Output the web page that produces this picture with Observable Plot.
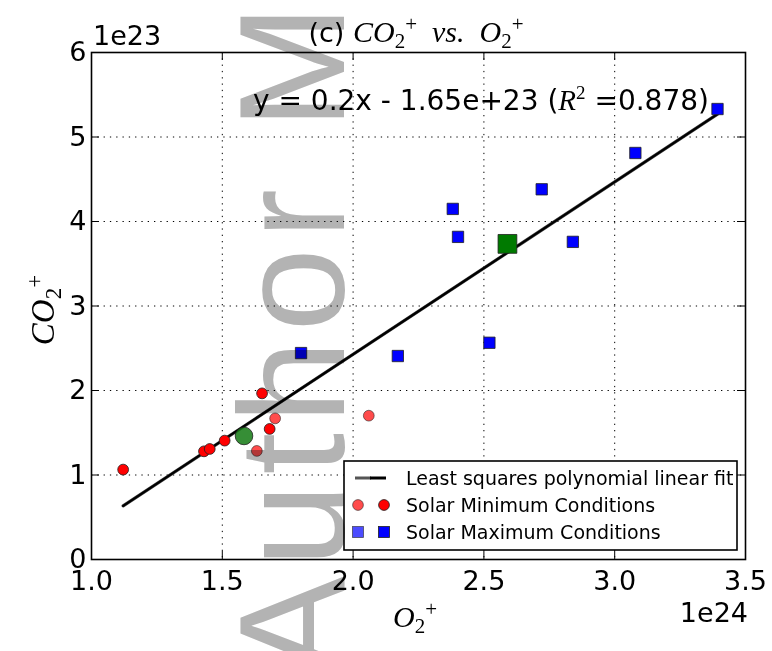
<!DOCTYPE html>
<html>
<head>
<meta charset="utf-8">
<script src="https://cdn.jsdelivr.net/npm/d3@7"></script>
<script src="https://cdn.jsdelivr.net/npm/@observablehq/plot@0.6"></script>
<style>
  html, body { margin: 0; padding: 0; background: white; }
  svg text { white-space: pre; }
</style>
</head>
<body>
<div id="chart"></div>
<script>
// ---- data (O2+ in units of 1e24, CO2+ in units of 1e23) ----
const xTicks = [1.0, 1.5, 2.0, 2.5, 3.0, 3.5];
const yTicks = [0, 1, 2, 3, 4, 5, 6];

const maxO2  = [1.801, 2.171, 2.521, 2.381, 2.401, 2.721, 2.840, 3.079, 3.393];
const maxCO2 = [2.443, 2.408, 2.565, 4.149, 3.818, 4.381, 3.759, 4.811, 5.331];

const minO2  = [1.121, 1.430, 1.452, 1.509, 1.652, 1.681];
const minCO2 = [1.064, 1.280, 1.308, 1.407, 1.966, 1.545];

const minLightO2  = [1.702, 2.060, 1.632];
const minLightCO2 = [1.670, 1.702, 1.285];

const maxMeanO2 = [2.590], maxMeanCO2 = [3.735];
const minMeanO2 = [1.583], minMeanCO2 = [1.462];

const fitO2  = [1.121, 3.393];
const fitCO2 = [0.635, 5.270];

const legendLabels = ["Least squares polynomial linear fit", "Solar Minimum Conditions", "Solar Maximum Conditions"];

const zip = (xs, ys) => xs.map((x, i) => ({x, y: ys[i]}));

const W = 772, H = 651;
const mL = 91, mR = 27, mT = 52, mB = 92;
const frameW = W - mL - mR, frameH = H - mT - mB;
const tickLen = 8;

const plot = Plot.plot({
  width: W, height: H,
  marginLeft: mL, marginRight: mR, marginTop: mT, marginBottom: mB,
  style: {fontFamily: "DejaVu Sans", background: "white", color: "black", overflow: "visible"},
  x: {domain: [1.0, 3.5]},
  y: {domain: [0, 6]},
  marks: [
    Plot.gridX(xTicks, {stroke: "black", strokeOpacity: 1, strokeWidth: 1, strokeDasharray: "1.3,5"}),
    Plot.gridY(yTicks, {stroke: "black", strokeOpacity: 1, strokeWidth: 1, strokeDasharray: "1.3,5"}),
    // inward ticks on all sides
    Plot.tickX(xTicks, {x: d => d, insetTop: frameH - tickLen, stroke: "black", strokeWidth: 1}),
    Plot.tickX(xTicks, {x: d => d, insetBottom: frameH - tickLen, stroke: "black", strokeWidth: 1}),
    Plot.tickY(yTicks, {y: d => d, insetRight: frameW - tickLen, stroke: "black", strokeWidth: 1}),
    Plot.tickY(yTicks, {y: d => d, insetLeft: frameW - tickLen, stroke: "black", strokeWidth: 1}),
    // fit line
    Plot.line(zip(fitO2, fitCO2), {x: "x", y: "y", stroke: "#444", strokeWidth: 3.2}),
    Plot.line(zip(fitO2, fitCO2), {x: "x", y: "y", stroke: "black", strokeWidth: 2.2}),
    // solar maximum
    Plot.dot(zip(maxO2, maxCO2), {x: "x", y: "y", symbol: "square", r: 6.4, fill: "#0000ff", stroke: "#202020", strokeWidth: 0.8}),
    Plot.dot(zip(maxMeanO2, maxMeanCO2), {x: "x", y: "y", symbol: "square", r: 10.6, fill: "#007a00", stroke: "#202020", strokeWidth: 0.8}),
    // solar minimum
    Plot.dot(zip(minO2, minCO2), {x: "x", y: "y", r: 5.4, fill: "#ff0000", stroke: "#202020", strokeWidth: 0.8}),
    Plot.dot(zip(minLightO2, minLightCO2), {x: "x", y: "y", r: 5.4, fill: "#ff0000", fillOpacity: 0.7, stroke: "#202020", strokeOpacity: 0.7, strokeWidth: 0.8}),
    Plot.dot(zip(minMeanO2, minMeanCO2), {x: "x", y: "y", r: 8.8, fill: "#137a13", fillOpacity: 0.85, stroke: "#202020", strokeWidth: 0.8}),
    Plot.frame({stroke: "black", strokeWidth: 1.6}),
    Plot.axisX(xTicks, {tickSize: 0, tickPadding: 11, fontSize: 27, tickFormat: d3.format(".1f"), label: null}),
    Plot.axisY(yTicks, {tickSize: 0, tickPadding: 5, fontSize: 27, tickFormat: d => String(d), label: null})
  ]
});

document.getElementById("chart").appendChild(plot);
const svg = d3.select(plot);
const layer = svg.append("g").attr("text-anchor", "start");

// offsets
layer.append("text").attr("x", 93).attr("y", 45).attr("text-anchor", "start").attr("font-family", "DejaVu Sans").attr("font-size", 27).text("1e23");
layer.append("text").attr("x", 748).attr("y", 622).attr("text-anchor", "end").attr("font-family", "DejaVu Sans").attr("font-size", 27).text("1e24");

const serif = "Liberation Serif";
function mathLabel(t, parts) {
  for (const p of parts) {
    const s = t.append("tspan").text(p.t)
      .attr("font-family", p.f || serif)
      .attr("font-size", p.s || 30);
    if (p.i) s.attr("font-style", "italic");
    if (p.dy) s.attr("dy", p.dy);
  }
}

// title
const title = layer.append("text").attr("x", 416).attr("y", 42).attr("text-anchor", "middle");
mathLabel(title, [
  {t: "(c) ", f: "DejaVu Sans", s: 27},
  {t: "CO", i: true},
  {t: "2", s: 21, dy: 6},
  {t: "+", s: 21, dy: -17},
  {t: "  vs.  ", i: true, dy: 11},
  {t: "O", i: true},
  {t: "2", s: 21, dy: 6},
  {t: "+", s: 21, dy: -17}
]);

// x label
const xl = layer.append("text").attr("x", 415).attr("y", 627).attr("text-anchor", "middle");
mathLabel(xl, [
  {t: "O", i: true},
  {t: "2", s: 21, dy: 6},
  {t: "+", s: 21, dy: -17}
]);

// y label
const yl = layer.append("text").attr("transform", "translate(54,310) rotate(-90)").attr("text-anchor", "middle");
mathLabel(yl, [
  {t: "CO", i: true, s: 33},
  {t: "2", s: 23, dy: 7},
  {t: "+", s: 23, dy: -19}
]);

// equation
const eq = layer.append("text").attr("x", 253).attr("y", 110).attr("text-anchor", "start");
mathLabel(eq, [
  {t: "y = 0.2x - 1.65e+23 (", f: "DejaVu Sans", s: 28},
  {t: "R", i: true, s: 29},
  {t: "2", s: 19, dy: -11},
  {t: " =0.878)", f: "DejaVu Sans", s: 28, dy: 11}
]);

// legend
const lg = layer.append("g");
lg.append("rect").attr("x", 344).attr("y", 461).attr("width", 393).attr("height", 89)
  .attr("fill", "white").attr("stroke", "black").attr("stroke-width", 1.6);
const rows = [478, 505, 532];
lg.append("line").attr("x1", 355).attr("x2", 371).attr("y1", rows[0]).attr("y2", rows[0]).attr("stroke", "#555").attr("stroke-width", 3);
lg.append("line").attr("x1", 370).attr("x2", 386).attr("y1", rows[0]).attr("y2", rows[0]).attr("stroke", "black").attr("stroke-width", 3);
lg.append("circle").attr("cx", 358).attr("cy", rows[1]).attr("r", 5.4).attr("fill", "#ff0000").attr("fill-opacity", 0.7).attr("stroke", "#202020").attr("stroke-opacity", 0.7).attr("stroke-width", 0.8);
lg.append("circle").attr("cx", 384).attr("cy", rows[1]).attr("r", 5.4).attr("fill", "#ff0000").attr("stroke", "#202020").attr("stroke-width", 0.8);
lg.append("rect").attr("x", 352.5).attr("y", rows[2] - 5.5).attr("width", 11).attr("height", 11).attr("fill", "#0000ff").attr("fill-opacity", 0.7).attr("stroke", "#202020").attr("stroke-opacity", 0.7).attr("stroke-width", 0.8);
lg.append("rect").attr("x", 378.5).attr("y", rows[2] - 5.5).attr("width", 11).attr("height", 11).attr("fill", "#0000ff").attr("stroke", "#202020").attr("stroke-width", 0.8);
legendLabels.forEach((t, i) => {
  lg.append("text").attr("x", 406).attr("y", rows[i]).attr("dy", "0.36em").attr("text-anchor", "start")
    .attr("font-family", "DejaVu Sans").attr("font-size", 19).text(t);
});

// watermark
layer.append("text").attr("transform", "translate(344,676) rotate(-90)").attr("text-anchor", "start")
  .attr("font-family", "Liberation Sans").attr("font-size", 150).attr("letter-spacing", 9)
  .attr("fill", "#b3b3b3").style("mix-blend-mode", "multiply")
  .text("Author M");
</script>
</body>
</html>
